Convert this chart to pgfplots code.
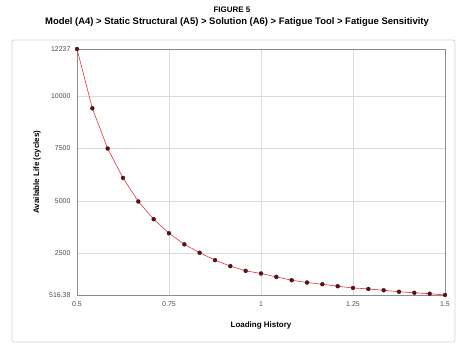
\documentclass[border=0pt]{standalone}
\usepackage{pgfplots}
\pgfplotsset{compat=1.18}
\usepackage{fontspec}
\setmainfont{Liberation Sans}
\definecolor{ptred}{HTML}{E8303A}
\definecolor{ptmark}{HTML}{5A0F1C}
\definecolor{framegray}{HTML}{8C8C8C}
\definecolor{gridgray}{HTML}{DCDCDC}
\begin{document}
\begin{tikzpicture}
\useasboundingbox (-77bp,-50bp) rectangle (387bp,295bp);
\draw[gray!35, line width=0.8bp, rounded corners=2bp] (-65bp,-47bp) rectangle (378bp,255bp);
\node[font=\bfseries\fontsize{8}{9}\selectfont] at (155bp,285bp) {FIGURE 5};
\node[font=\bfseries\fontsize{9.5}{10}\selectfont] at (160bp,273bp) {Model (A4) > Static Structural (A5) > Solution (A6) > Fatigue Tool > Fatigue Sensitivity};
\begin{axis}[
  at={(0,0)}, anchor=south west,
  scale only axis, width=368bp, height=246bp,
  xmin=0.5, xmax=1.5, ymin=516.38, ymax=12237,
  xtick={0.5,0.75,1,1.25,1.5},
  xticklabels={0.5,0.75,1,1.25,1.5},
  ytick={516.38,2500,5000,7500,10000,12237},
  yticklabels={516.38,2500,5000,7500,10000,12237},
  scaled y ticks=false, scaled x ticks=false,
  grid=major,
  major grid style={gridgray, line width=0.6bp},
  axis line style={framegray, line width=0.9bp},
  tick style={draw=none},
  ticklabel style={font=\fontsize{7}{8}\selectfont, text=black!70},
  /pgf/number format/assume math mode=true,
  xlabel={Loading History},
  ylabel={Available Life (cycles)},
  xlabel style={font=\bfseries\fontsize{8}{9}\selectfont, at={(axis description cs:0.5,0)}, anchor=center, yshift=-30bp},
  ylabel style={font=\bfseries\fontsize{8}{9}\selectfont, at={(axis description cs:0,0.5)}, anchor=center, yshift=40bp},
  xticklabel style={yshift=-3bp},
  yticklabel style={xshift=-3bp},
]
\addplot[ptred, line width=0.6bp, mark=*, mark size=2bp, mark options={fill=ptmark, draw=ptmark!80!black, line width=0.3bp}] coordinates {
(0.500000,12237)
(0.541667,9412)
(0.583333,7496)
(0.625000,6093)
(0.666667,4972)
(0.708333,4129)
(0.750000,3458)
(0.791667,2931)
(0.833333,2529)
(0.875000,2179)
(0.916667,1892)
(0.958333,1667)
(1.000000,1542)
(1.041667,1379)
(1.083333,1221)
(1.125000,1111)
(1.166667,1029)
(1.208333,934)
(1.250000,852)
(1.291667,804)
(1.333333,742)
(1.375000,671)
(1.416667,622)
(1.458333,578)
(1.500000,516.38)
};
\end{axis}
\end{tikzpicture}
\end{document}
